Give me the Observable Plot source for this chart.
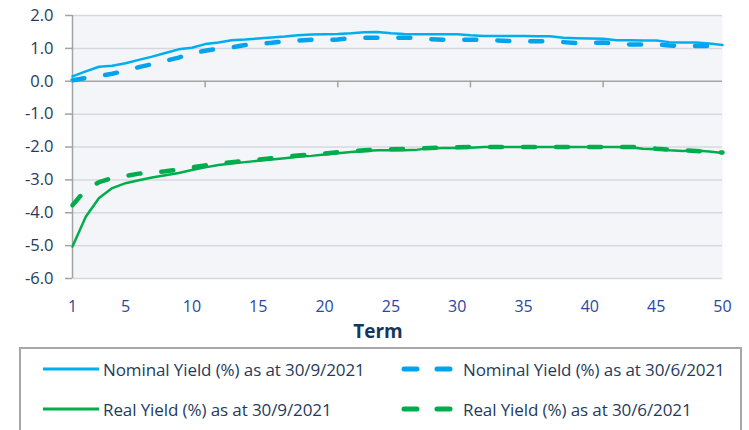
<!DOCTYPE html>
<html><head><meta charset="utf-8">
<script src="https://cdn.jsdelivr.net/npm/d3@7"></script>
<script src="https://cdn.jsdelivr.net/npm/@observablehq/plot@0.6"></script>
<style>
body{margin:0;background:#fff;font-family:"Open Sans",sans-serif;}
#wrap{position:relative;width:749px;height:430px;overflow:hidden;background:#fff;}
#chart{position:absolute;left:0;top:0;}
#term{position:absolute;left:338px;width:80px;top:321.5px;height:19px;line-height:19px;text-align:center;font-weight:700;font-size:19px;color:#17365d;}
#legend{position:absolute;left:19px;top:347px;width:723px;height:100px;border:2px solid #a8a8a8;box-sizing:border-box;}
.item{position:absolute;display:flex;align-items:center;height:24px;}
.item span{font-size:17px;color:#1f3b5c;letter-spacing:-0.1px;white-space:nowrap;}
</style></head><body>
<div id="wrap"><div id="chart"></div><div id="term">Term</div><div id="legend"></div></div>
<script>
const terms = [1,2,3,4,5,6,7,8,9,10,11,12,13,14,15,16,17,18,19,20,21,22,23,24,25,26,27,28,29,30,31,32,33,34,35,36,37,38,39,40,41,42,43,44,45,46,47,48,49,50];
const nominalSep = [0.15,0.30,0.44,0.47,0.55,0.65,0.75,0.86,0.97,1.02,1.13,1.18,1.25,1.27,1.30,1.33,1.36,1.40,1.42,1.43,1.44,1.46,1.49,1.50,1.46,1.44,1.43,1.43,1.43,1.43,1.40,1.38,1.38,1.38,1.38,1.37,1.37,1.32,1.31,1.30,1.29,1.25,1.25,1.24,1.24,1.19,1.18,1.18,1.15,1.10];
const nominalJun = [0.03,0.10,0.16,0.23,0.32,0.43,0.52,0.62,0.72,0.85,0.93,0.99,1.03,1.10,1.14,1.17,1.21,1.24,1.26,1.26,1.27,1.31,1.32,1.32,1.32,1.32,1.32,1.28,1.26,1.26,1.26,1.26,1.24,1.22,1.22,1.22,1.22,1.19,1.16,1.16,1.18,1.13,1.12,1.12,1.12,1.09,1.07,1.07,1.07,1.07];
const realSep = [-5.03,-4.12,-3.55,-3.25,-3.10,-3.01,-2.93,-2.86,-2.79,-2.70,-2.62,-2.55,-2.50,-2.46,-2.42,-2.38,-2.34,-2.30,-2.27,-2.23,-2.19,-2.15,-2.12,-2.10,-2.10,-2.10,-2.08,-2.04,-2.03,-2.03,-2.02,-2.00,-2.00,-2.00,-2.00,-2.00,-2.00,-2.00,-2.00,-2.00,-2.00,-2.00,-2.01,-2.05,-2.07,-2.10,-2.12,-2.11,-2.14,-2.18];
const realJun = [-3.77,-3.30,-3.07,-2.94,-2.88,-2.81,-2.78,-2.74,-2.69,-2.62,-2.56,-2.50,-2.46,-2.42,-2.38,-2.34,-2.30,-2.26,-2.22,-2.20,-2.16,-2.13,-2.10,-2.08,-2.07,-2.06,-2.05,-2.03,-2.02,-2.01,-2.00,-2.00,-2.00,-2.00,-2.00,-2.00,-2.00,-2.00,-2.00,-2.00,-2.00,-2.00,-2.00,-2.00,-2.05,-2.08,-2.10,-2.12,-2.14,-2.17];
const seriesNames = ["Nominal Yield (%) as at 30/9/2021","Nominal Yield (%) as at 30/6/2021","Real Yield (%) as at 30/9/2021","Real Yield (%) as at 30/6/2021"];
const xTickLabels = [1,5,10,15,20,25,30,35,40,45,50];
const xMarkTicks = [11,21,31,41];
const yTickLabels = [2,1,0,-1,-2,-3,-4,-5,-6];

const BLUE = "#00aeef", BLUE2 = "#00a3ee", GREEN = "#00ad4c";
const styles = [
  {stroke: BLUE, strokeWidth: 2.5, dash: null},
  {stroke: BLUE2, strokeWidth: 4.5, dash: "12,21"},
  {stroke: GREEN, strokeWidth: 2.5, dash: null},
  {stroke: GREEN, strokeWidth: 4.5, dash: "12,21"}
];
const allValues = [nominalSep, nominalJun, realSep, realJun];
const tables = allValues.map((vals, i) => terms.map((t, j) => ({term: t, value: vals[j], series: seriesNames[i]})));

const lineMarks = tables.map((tbl, i) => Plot.line(tbl, {
  x: "term", y: "value", stroke: styles[i].stroke, strokeWidth: styles[i].strokeWidth,
  strokeDasharray: styles[i].dash, strokeLinecap: "round", strokeLinejoin: "round"
}));

const chart = Plot.plot({
  width: 749, height: 345,
  marginLeft: 72, marginRight: 27, marginTop: 15, marginBottom: 67,
  style: {fontFamily: "'Open Sans', sans-serif", background: "transparent"},
  x: {domain: [1, 50]},
  y: {domain: [-6, 2]},
  marks: [
    Plot.frame({fill: "#f4f5f8", stroke: null}),
    Plot.ruleY(yTickLabels.filter(d => d !== 0), {stroke: "#d7d8df", strokeWidth: 1.5}),
    Plot.ruleY([0], {stroke: "#a3a3a3", strokeWidth: 1.5}),
    Plot.ruleX(xMarkTicks, {y1: 0, y2: -0.2, stroke: "#a3a3a3", strokeWidth: 1.5}),
    Plot.ruleX([1], {y1: -6, y2: 2, stroke: "#a3a3a3", strokeWidth: 1.5}),
    ...lineMarks,
    Plot.axisY({ticks: yTickLabels, tickSize: 7, tickPadding: 12, tickFormat: d => d.toFixed(1),
      fontSize: 16.5, stroke: "#a3a3a3", strokeWidth: 1.5, fill: "#1f3b5c", label: null}),
    Plot.axisX({ticks: xTickLabels, tickSize: 0, tickPadding: 22.5, tickFormat: d => String(d),
      fontSize: 16, fill: "#2a48a0", label: null})
  ]
});
document.getElementById("chart").appendChild(chart);

// legend
const legend = document.getElementById("legend");
const pos = [[18, 8], [376, 8], [18, 48], [376, 48]];
seriesNames.forEach((name, i) => {
  const div = document.createElement("div");
  div.className = "item";
  div.style.left = pos[i][0] + "px";
  div.style.top = pos[i][1] + "px";
  const s = styles[i];
  const w = s.dash ? 66 : 64;
  const svg = d3.create("svg").attr("width", w).attr("height", 24).style("display", "block");
  if (s.dash) {
    svg.append("line").attr("x1", 7).attr("x2", 56).attr("y1", 12).attr("y2", 12)
      .attr("stroke", s.stroke).attr("stroke-width", 5)
      .attr("stroke-dasharray", "13,20").attr("stroke-linecap", "round");
  } else {
    svg.append("line").attr("x1", 4).attr("x2", 60).attr("y1", 12).attr("y2", 12)
      .attr("stroke", s.stroke).attr("stroke-width", 3);
  }
  div.appendChild(svg.node());
  const sp = document.createElement("span");
  sp.textContent = name;
  div.appendChild(sp);
  legend.appendChild(div);
});
</script>
</body></html>
